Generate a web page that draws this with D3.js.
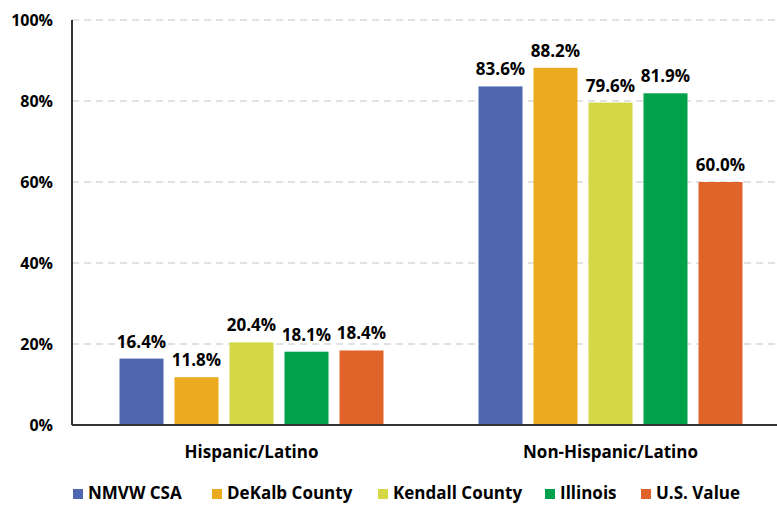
<!DOCTYPE html>
<html>
<head>
<meta charset="utf-8">
<script src="https://cdn.jsdelivr.net/npm/d3@7"></script>
<style>
  body { margin: 0; background: #fff; }
  svg { display: block; font-family: "Open Sans", "DejaVu Sans", sans-serif; font-weight: 700; }
</style>
</head>
<body>
<div id="chart"></div>
<script>
const categories = ["Hispanic/Latino", "Non-Hispanic/Latino"];
const seriesNames = ["NMVW CSA", "DeKalb County", "Kendall County", "Illinois", "U.S. Value"];
const seriesColors = ["#4F67B1", "#EBAB1F", "#D3D844", "#00A14B", "#E0632A"];
const hispanicValues = [16.4, 11.8, 20.4, 18.1, 18.4];
const nonHispanicValues = [83.6, 88.2, 79.6, 81.9, 60.0];
const yTicks = [0, 20, 40, 60, 80, 100];

const values = [hispanicValues, nonHispanicValues];

const width = 777, height = 506;
const margin = { top: 20, left: 72, bottom: 81 };
// the plot area runs past the right edge of the picture
const plotRight = 790;

const svg = d3.select("#chart").append("svg")
    .attr("width", width)
    .attr("height", height);

const x = d3.scaleBand()
    .domain(categories)
    .range([margin.left, plotRight]);

const x1 = d3.scaleBand()
    .domain(seriesNames)
    .range([0, 264])
    .paddingInner(0.2);

const y = d3.scaleLinear()
    .domain([0, 100])
    .range([height - margin.bottom, margin.top]);

// gridlines
svg.append("g")
    .selectAll("line")
    .data(yTicks.filter(d => d > 0))
    .enter()
    .append("line")
    .attr("x1", margin.left)
    .attr("x2", width)
    .attr("y1", d => y(d))
    .attr("y2", d => y(d))
    .attr("stroke", "#D9D9D9")
    .attr("stroke-width", 1.3)
    .attr("stroke-dasharray", "7,5");

// y axis labels
svg.append("g")
    .selectAll("text")
    .data(yTicks)
    .enter()
    .append("text")
    .attr("x", 53)
    .attr("y", d => y(d) + 6)
    .attr("text-anchor", "end")
    .attr("font-size", "16px")
    .attr("fill", "#000")
    .text(d => d + "%");

// bars
const groups = svg.selectAll(".group")
    .data(categories)
    .enter()
    .append("g")
    .attr("class", "group")
    .attr("transform", d => "translate(" + (x(d) + x.bandwidth() / 2 - 132) + ",0)");

groups.selectAll("rect")
    .data((d, i) => values[i].map((v, j) => ({ key: seriesNames[j], value: v, color: seriesColors[j] })))
    .enter()
    .append("rect")
    .attr("x", d => x1(d.key))
    .attr("width", x1.bandwidth())
    .attr("y", d => y(d.value))
    .attr("height", d => y(0) - y(d.value))
    .attr("fill", d => d.color);

groups.selectAll(".val")
    .data((d, i) => values[i].map((v, j) => ({ key: seriesNames[j], value: v })))
    .enter()
    .append("text")
    .attr("class", "val")
    .attr("x", d => x1(d.key) + x1.bandwidth() / 2)
    .attr("y", d => y(d.value) - 11)
    .attr("text-anchor", "middle")
    .attr("font-size", "17px")
    .attr("fill", "#000")
    .text(d => d.value.toFixed(1) + "%");

// axis lines
svg.append("line")
    .attr("x1", margin.left).attr("x2", margin.left)
    .attr("y1", y(100)).attr("y2", y(0))
    .attr("stroke", "#333").attr("stroke-width", 2);
svg.append("line")
    .attr("x1", margin.left).attr("x2", width)
    .attr("y1", y(0)).attr("y2", y(0))
    .attr("stroke", "#333").attr("stroke-width", 2);

// category labels
svg.append("g")
    .selectAll("text")
    .data(categories)
    .enter()
    .append("text")
    .attr("x", d => x(d) + x.bandwidth() / 2)
    .attr("y", 458)
    .attr("text-anchor", "middle")
    .attr("font-size", "17px")
    .attr("fill", "#000")
    .text(d => d);

// legend
const legendX = [73, 212, 378, 545, 641];
const legend = svg.append("g")
    .selectAll("g")
    .data(seriesNames)
    .enter()
    .append("g")
    .attr("transform", (d, i) => "translate(" + legendX[i] + ",489)");

legend.append("rect")
    .attr("width", 10)
    .attr("height", 10)
    .attr("fill", (d, i) => seriesColors[i]);

legend.append("text")
    .attr("x", 15)
    .attr("y", 10)
    .attr("font-size", "17px")
    .attr("fill", "#000")
    .text(d => d);
</script>
</body>
</html>
